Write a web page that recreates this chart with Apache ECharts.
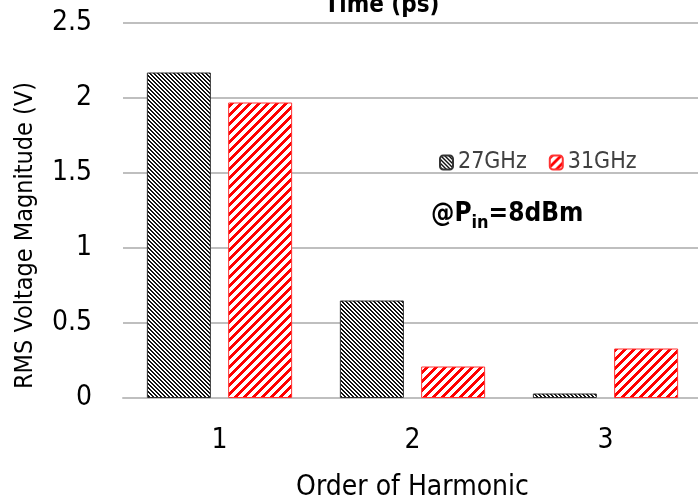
<!DOCTYPE html>
<html>
<head>
<meta charset="utf-8">
<script src="https://cdn.jsdelivr.net/npm/echarts@6/dist/echarts.min.js"></script>
<style>html,body{margin:0;padding:0;background:#fff;}#c{width:698px;height:501px;}</style>
</head>
<body>
<div id="c"></div>
<script>
const categories = ['1', '2', '3'];
const series27 = [2.17, 0.65, 0.03];
const series31 = [1.97, 0.21, 0.33];
const seriesNames = ['27GHz', '31GHz'];
const yMin = 0, yMax = 2.5, yInterval = 0.5;

const FONT = "'Liberation Sans Narrow', 'Arial Narrow', 'DejaVu Sans Condensed', sans-serif";

function stripes(p, w, color, dir) {
  const c = document.createElement('canvas');
  c.width = p; c.height = p;
  const ctx = c.getContext('2d');
  ctx.fillStyle = '#fff';
  ctx.fillRect(0, 0, p, p);
  ctx.fillStyle = color;
  for (let y = 0; y < p; y++) {
    for (let x = 0; x < p; x++) {
      const k = dir > 0 ? (x + y) % p : (((x - y) % p) + p) % p;
      if (k < w) ctx.fillRect(x, y, 1, 1);
    }
  }
  return { image: c, repeat: 'repeat' };
}

const pat27 = stripes(4, 2, '#111111', -1);
const pat31 = stripes(9, 4, '#ff0000', 1);

const chart = echarts.init(document.getElementById('c'), null, { renderer: 'canvas' });
chart.setOption({
  animation: false,
  backgroundColor: '#fff',
  title: {
    text: 'Time (ps)',
    left: 377, top: -11,
    textAlign: 'center',
    textStyle: { fontFamily: FONT, fontSize: 24, fontWeight: 'bold', color: '#000' }
  },
  legend: {
    left: 434, top: 146,
    itemWidth: 13, itemHeight: 14, itemGap: 22,
    textStyle: { fontFamily: FONT, fontSize: 23, color: '#404040' },
    data: seriesNames
  },
  grid: { left: 123, right: -4, top: 23, bottom: 103, outerBoundsMode: 'none', containLabel: false },
  xAxis: {
    type: 'category',
    data: categories,
    name: 'Order of Harmonic',
    nameLocation: 'middle',
    nameGap: 76,
    nameTextStyle: { fontFamily: FONT, fontSize: 28, color: '#000' },
    axisLine: { show: true, lineStyle: { color: '#bfbfbf', width: 2 } },
    axisTick: { show: false },
    axisLabel: { fontFamily: FONT, fontSize: 28, color: '#000', margin: 29 }
  },
  yAxis: {
    type: 'value',
    min: yMin, max: yMax, interval: yInterval,
    name: 'RMS Voltage Magnitude (V)',
    nameLocation: 'middle',
    nameGap: 85,
    nameTextStyle: { fontFamily: FONT, fontSize: 25, color: '#000', padding: [0, 50, 0, 0] },
    axisLine: { show: false },
    axisTick: { show: false },
    splitLine: { lineStyle: { color: '#bfbfbf', width: 2 } },
    axisLabel: { fontFamily: FONT, fontSize: 28, color: '#000', margin: 31 }
  },
  series: [
    {
      name: seriesNames[0], type: 'bar', data: series27,
      barWidth: 64, barGap: '27%',
      itemStyle: { color: pat27, borderColor: '#333333', borderWidth: 1 }
    },
    {
      name: seriesNames[1], type: 'bar', data: series31,
      barWidth: 64, barGap: '27%',
      itemStyle: { color: pat31, borderColor: '#ff3333', borderWidth: 1 }
    }
  ],
  graphic: [
    {
      type: 'text',
      left: 431, top: 201,
      style: {
        text: '{a|@P}{b|in}{a|=8dBm}',
        rich: {
          a: { fontFamily: FONT, fontSize: 26, fontWeight: 'bold', fill: '#000', lineHeight: 30, verticalAlign: 'bottom' },
          b: { fontFamily: FONT, fontSize: 18, fontWeight: 'bold', fill: '#000', lineHeight: 30, verticalAlign: 'bottom', padding: [0, 0, -5, 0] }
        }
      }
    }
  ]
});
</script>
</body>
</html>
